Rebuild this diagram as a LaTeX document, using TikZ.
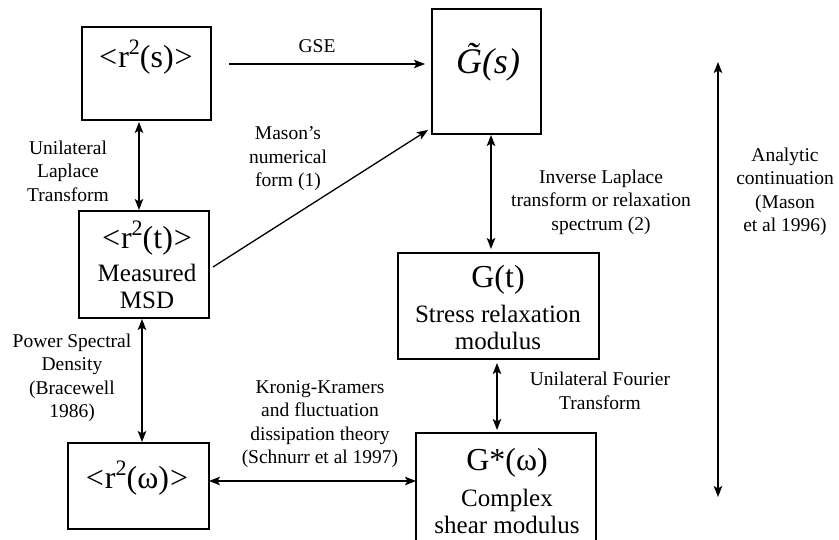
\documentclass[tikz,border=0pt]{standalone}
\usepackage{fontspec}
\setmainfont{Liberation Serif}
\usetikzlibrary{arrows.meta}
\newcommand\lblsize{\fontsize{19.5}{23.5}\selectfont}
\newcommand\boxsubsize{\fontsize{25}{27}\selectfont}
\newcommand\boxmainsize{\fontsize{32}{34}\selectfont}
\newcommand\sqr{\raisebox{0.42em}{\fontsize{22}{22}\selectfont 2}}
\begin{document}
\begin{tikzpicture}[x=1pt,y=-1pt,
    box/.style={draw,line width=1.4pt,inner sep=0pt,outer sep=0pt},
    lbl/.style={font=\lblsize,align=center,inner sep=0pt},
    arr/.style={line width=1.3pt,-{Stealth[length=11pt,width=8.5pt,inset=2.5pt]}},
    darr/.style={line width=1.3pt,{Stealth[length=11pt,width=8.5pt,inset=2.5pt]}-{Stealth[length=11pt,width=8.5pt,inset=2.5pt]}}]
    \useasboundingbox (0,0) rectangle (839,540);
    \clip (0,0) rectangle (839,540);

    % boxes, then their texts near the top
    \node[box,minimum width=129pt,minimum height=93pt] (rs) at (146.5,73.5) {};
    \node[box,minimum width=130pt,minimum height=107pt] (rt) at (144,264.5) {};
    \node[box,minimum width=141pt,minimum height=86pt] (rw) at (138.5,486) {};
    \node[box,minimum width=109pt,minimum height=125pt] (Gs) at (486.5,71.5) {};
    \node[box,minimum width=201pt,minimum height=106pt] (Gt) at (498.5,306) {};
    \node[box,minimum width=180pt,minimum height=127pt] (Gw) at (506,496.5) {};

    \node[font=\boxmainsize] (rstext) at (146,57) {<\kern1pt r\sqr(s)\kern1pt>};
    \node[font=\boxmainsize] (rttext) at (147,238) {<\kern1pt r\sqr(t)\kern1pt>};
    \node[font=\boxsubsize,align=center] (rtsub) at (147,286) {Measured\\MSD};
    \node[font=\boxmainsize] (rwtext) at (137,478) {<\kern1pt r\sqr(ω)\kern1pt>};
    \node[font=\fontsize{36}{38}\selectfont\itshape] (Gstext) at (488,62) {\~{G}(s)};
    \node[font=\boxmainsize] (Gttext) at (498,280) {G(t)};
    \node[font=\boxsubsize,align=center] (Gtsub) at (498,327) {Stress relaxation\\modulus};
    \node[font=\boxmainsize] (Gwtext) at (507,463) {G*(ω)};
    \node[font=\boxsubsize,align=center] (Gwsub) at (507,511.5) {Complex\\shear modulus};

    % connectors
    \draw[arr] ([xshift=18pt,yshift=9.5pt]rs.east) -- ([xshift=-7pt,yshift=7.5pt]Gs.west);
    \draw[darr] ([xshift=-7.5pt,yshift=-2pt]rs.south) -- ([xshift=-5pt,yshift=1pt]rt.north);
    \draw[darr] ([xshift=-2pt,yshift=-1pt]rt.south) -- ([xshift=3.5pt,yshift=1pt]rw.north);
    \draw[arr] ([xshift=4pt,yshift=-2.5pt]rt.east) -- ([xshift=-4pt,yshift=4pt]Gs.south west);
    \draw[darr] ([xshift=4.5pt,yshift=-1pt]Gs.south) -- ([xshift=-7.5pt,yshift=4pt]Gt.north);
    \draw[darr] ([xshift=-1.5pt,yshift=-4pt]Gt.south) -- ([xshift=-9pt,yshift=3pt]Gw.north);
    \draw[darr] ([yshift=5pt]rw.east) -- ([yshift=15.5pt]Gw.west);
    \coordinate (actop) at (718,62);
    \coordinate (acbot) at (718,497);
    \draw[darr] (actop) -- (acbot);

    % labels
    \node[lbl] (gse) at (317,46) {GSE};
    \node[lbl] (laplace) at (68,171) {Unilateral\\Laplace\\Transform};
    \node[lbl] (mason) at (288,159) {Mason’s\\numerical\\form (1)};
    \node[lbl] (invlap) at (601,202) {Inverse Laplace\\transform or relaxation\\spectrum (2)};
    \node[lbl] (analytic) at (785,192) {Analytic\\continuation\\(Mason\\et al 1996)};
    \node[lbl] (psd) at (72,378) {Power Spectral\\Density\\(Bracewell\\1986)};
    \node[lbl] (kk) at (320,424) {Kronig-Kramers\\and fluctuation\\dissipation theory\\(Schnurr et al 1997)};
    \node[lbl] (fourier) at (600,391) {Unilateral Fourier\\Transform};
\end{tikzpicture}
\end{document}
